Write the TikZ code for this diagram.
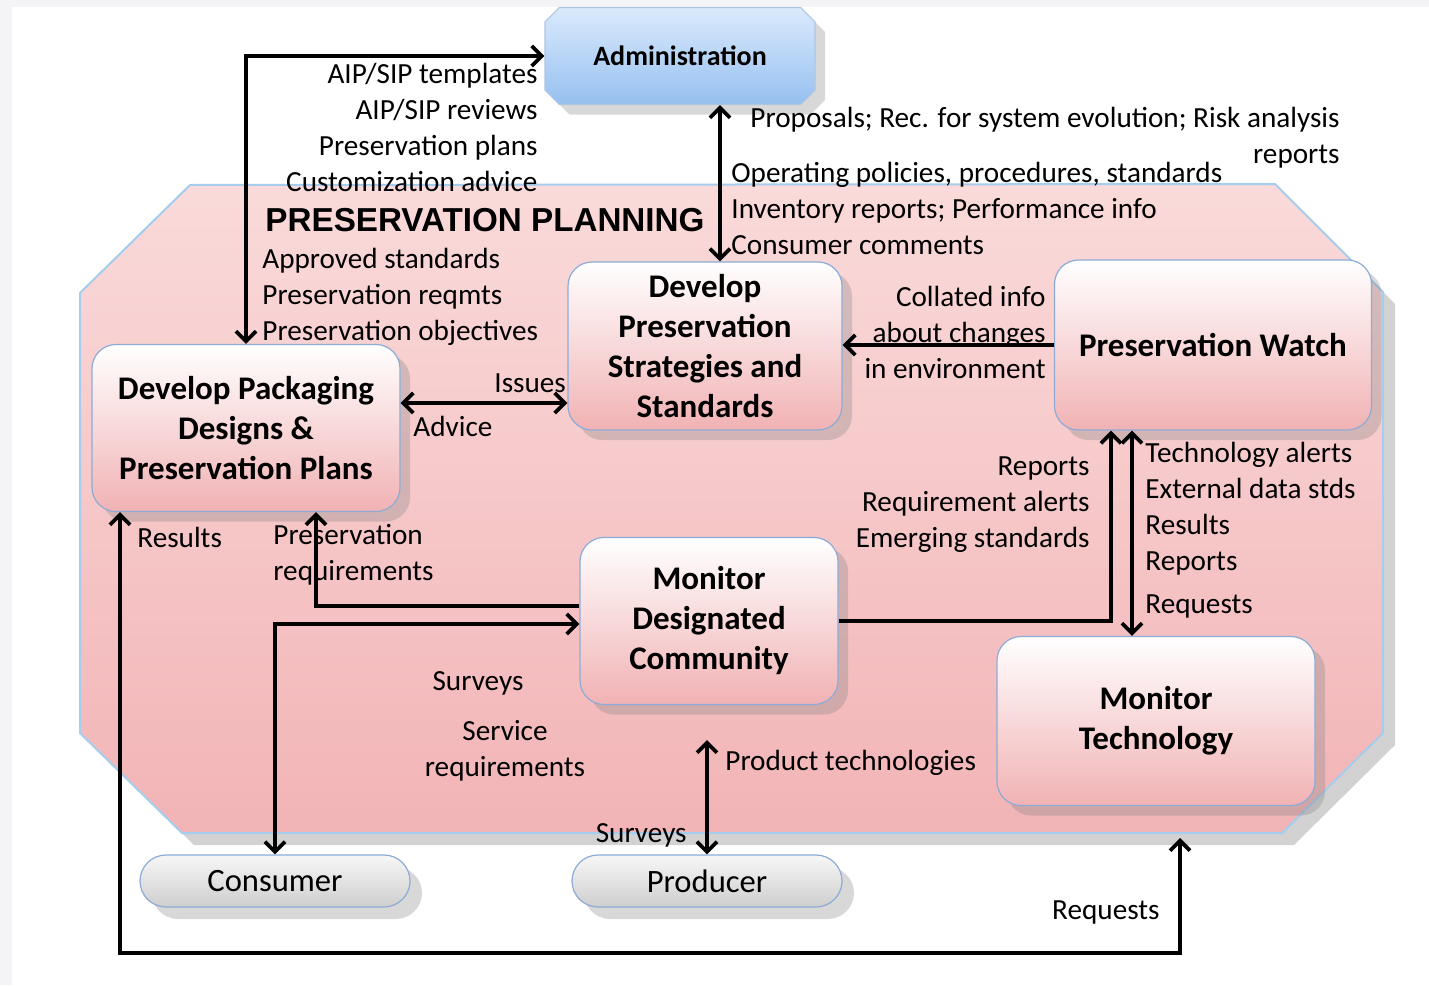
\documentclass[tikz,border=0pt]{standalone}
\usepackage{fontspec}
\setmainfont{Carlito}
\newfontfamily\titlefont{Liberation Sans}
\usepackage{tikz}
\usetikzlibrary{arrows.meta,shadows,shapes.misc}
\definecolor{pinktop}{RGB}{250,224,224}
\definecolor{pinkbot}{RGB}{241,178,180}
\definecolor{plantop}{RGB}{250,218,218}
\definecolor{planbot}{RGB}{242,180,182}
\definecolor{edgeblue}{RGB}{140,172,215}
\definecolor{planedge}{RGB}{165,205,238}
\definecolor{admtop}{RGB}{218,234,252}
\definecolor{admbot}{RGB}{150,192,240}
\definecolor{greytop}{RGB}{247,247,247}
\definecolor{greybot}{RGB}{206,206,206}
\definecolor{framegrey}{RGB}{244,244,246}
\tikzset{
	procnode/.style  = {shape=rectangle, rounded corners=12pt,
		draw=edgeblue, line width=0.6pt, align=center, inner sep=0pt,
		top color=white, middle color=pinktop, bottom color=pinkbot,
		drop shadow={shadow xshift=5pt, shadow yshift=-5pt, opacity=.3},
		font=\bfseries\fontsize{16.5}{20}\selectfont},
	adminnode/.style = {shape=chamfered rectangle, chamfered rectangle xsep=4pt,
		draw=edgeblue!70, line width=0.6pt, align=center, inner sep=0pt,
		top color=admtop, middle color=admtop!50!admbot, bottom color=admbot,
		drop shadow={shadow xshift=5pt, shadow yshift=-5pt, opacity=.3},
		font=\bfseries\fontsize{14}{18}\selectfont},
	actor/.style     = {shape=rectangle, rounded corners=13pt,
		draw=edgeblue, line width=0.6pt, inner sep=0pt,
		top color=greytop, bottom color=greybot,
		drop shadow={shadow xshift=6pt, shadow yshift=-6pt, opacity=.3},
		minimum width=135pt, minimum height=26pt,
		font=\fontsize{16.3}{20}\selectfont},
	lbl/.style       = {inner sep=0pt, font=\fontsize{14.6}{18}\selectfont},
	flow/.style      = {draw, line width=1.9pt}
}

\begin{document}
\begin{tikzpicture}
	[
	x = 0.5pt, y = -0.5pt,
	>= {Straight Barb[length=5pt, width=10pt]}
	]
	\useasboundingbox (0,0) rectangle (1429,985);
	\fill[framegrey] (0,0) rectangle (1429,985);
	\fill[white] (12,7) rectangle (1429,985);

	% preservation planning area
	\path[draw=planedge, line width=1pt, top color=plantop, bottom color=planbot,
		drop shadow={shadow xshift=6pt, shadow yshift=-6pt, opacity=.35}]
		(190,185) -- (1275,184) -- (1383,292) -- (1383,733) -- (1282,833)
		-- (182,833) -- (80,733) -- (80,293) -- cycle;
	\node (title) at (485,220) {\titlefont\bfseries\fontsize{16.6}{19}\selectfont PRESERVATION PLANNING};

	% functions
	\node [adminnode, minimum width=135pt, minimum height=48.5pt] (admin) at (680,56) {Administration};
	\node [procnode, minimum width=154pt, minimum height=83.5pt] (dpd) at (246,428)
		{Develop Packaging\\Designs \&\\Preservation Plans};
	\node [procnode, minimum width=137pt, minimum height=84pt] (dps) at (705,346)
		{Develop\\Preservation\\Strategies and\\Standards};
	\node [procnode, minimum width=158.5pt, minimum height=85pt] (pw) at (1213,345)
		{Preservation Watch};
	\node [procnode, minimum width=129pt, minimum height=83.5pt] (mdc) at (709,621)
		{Monitor\\Designated\\Community};
	\node [procnode, minimum width=159pt, minimum height=84.5pt] (mt) at (1156,721)
		{Monitor\\Technology};
	\node [actor] (consumer) at (275,881) {Consumer};
	\node [actor] (producer) at (707,881) {Producer};

	\coordinate (prodtip) at (707,740);
	\coordinate (mtin) at (1180,838);
	\coordinate (loopbl) at (120,953);

	% flows
	\draw [flow, <->] (admin.west) -| (dpd.north);
	\draw [flow, <->] ([xshift=20pt]admin.south) -- ([xshift=20pt]admin.south |- dps.north);
	\draw [flow, <->] ([yshift=12.5pt]dpd.east) -- ([yshift=12.5pt]dpd.east -| dps.west);
	\draw [flow, ->] (pw.west) -- (pw.west -| dps.east);
	\draw [flow, ->] (mdc.east) -| ([xshift=-51pt]pw.south);
	\draw [flow, <->] ([xshift=-40.5pt]pw.south) -- ([xshift=-40.5pt]pw.south |- mt.north);
	\draw [flow, ->] ([yshift=7.5pt]mdc.west) -| ([xshift=35pt]dpd.south);
	\draw [flow, <->] (consumer.north) |- ([yshift=-1.5pt]mdc.west);
	\draw [flow, <->] (producer.north) -- (prodtip);
	\draw [flow, <->] (mtin) |- (loopbl) -- (loopbl |- dpd.south);

	% flow labels
	\node [lbl, align=right, anchor=east] (l_aip) at (538,127)
		{AIP/SIP templates\\AIP/SIP reviews\\Preservation plans\\Customization advice};
	\node [lbl, align=left, anchor=west] (l_appr) at (262,297)
		{Approved standards\\Preservation reqmts\\Preservation objectives};
	\node [lbl, align=right, anchor=east] (l_prop) at (1340,138)
		{Proposals; Rec. for system evolution; Risk analysis\\reports};
	\node [lbl, align=left, anchor=west] (l_ops) at (731,208)
		{Operating policies, procedures, standards\\Inventory reports; Performance info\\Consumer comments};
	\node [lbl, align=right, anchor=east] (l_coll) at (1046,332)
		{Collated info\\about changes\\in environment};
	\node [lbl, anchor=west] (l_iss) at (494,383) {Issues};
	\node [lbl, anchor=west] (l_adv) at (413,426) {Advice};
	\node [lbl, align=right, anchor=east] (l_rep) at (1090,505)
		{Reports\\Requirement alerts\\Emerging standards};
	\node [lbl, align=left, anchor=west] (l_tech) at (1145,509)
		{Technology alerts\\External data stds\\Results\\Reports};
	\node [lbl, anchor=west] (l_req) at (1145,606) {Requests};
	\node [lbl, anchor=west] (l_res) at (137,537) {Results};
	\node [lbl, align=left, anchor=west] (l_preq) at (273,555)
		{Preservation\\requirements};
	\node [lbl] (l_surv) at (478,683) {Surveys};
	\node [lbl, align=center] (l_serv) at (505,751) {Service\\requirements};
	\node [lbl, anchor=west] (l_ptech) at (725,763) {Product technologies};
	\node [lbl, anchor=east] (l_surv2) at (687,835) {Surveys};
	\node [lbl, anchor=east] (l_req2) at (1160,912) {Requests};
\end{tikzpicture}
\end{document}
